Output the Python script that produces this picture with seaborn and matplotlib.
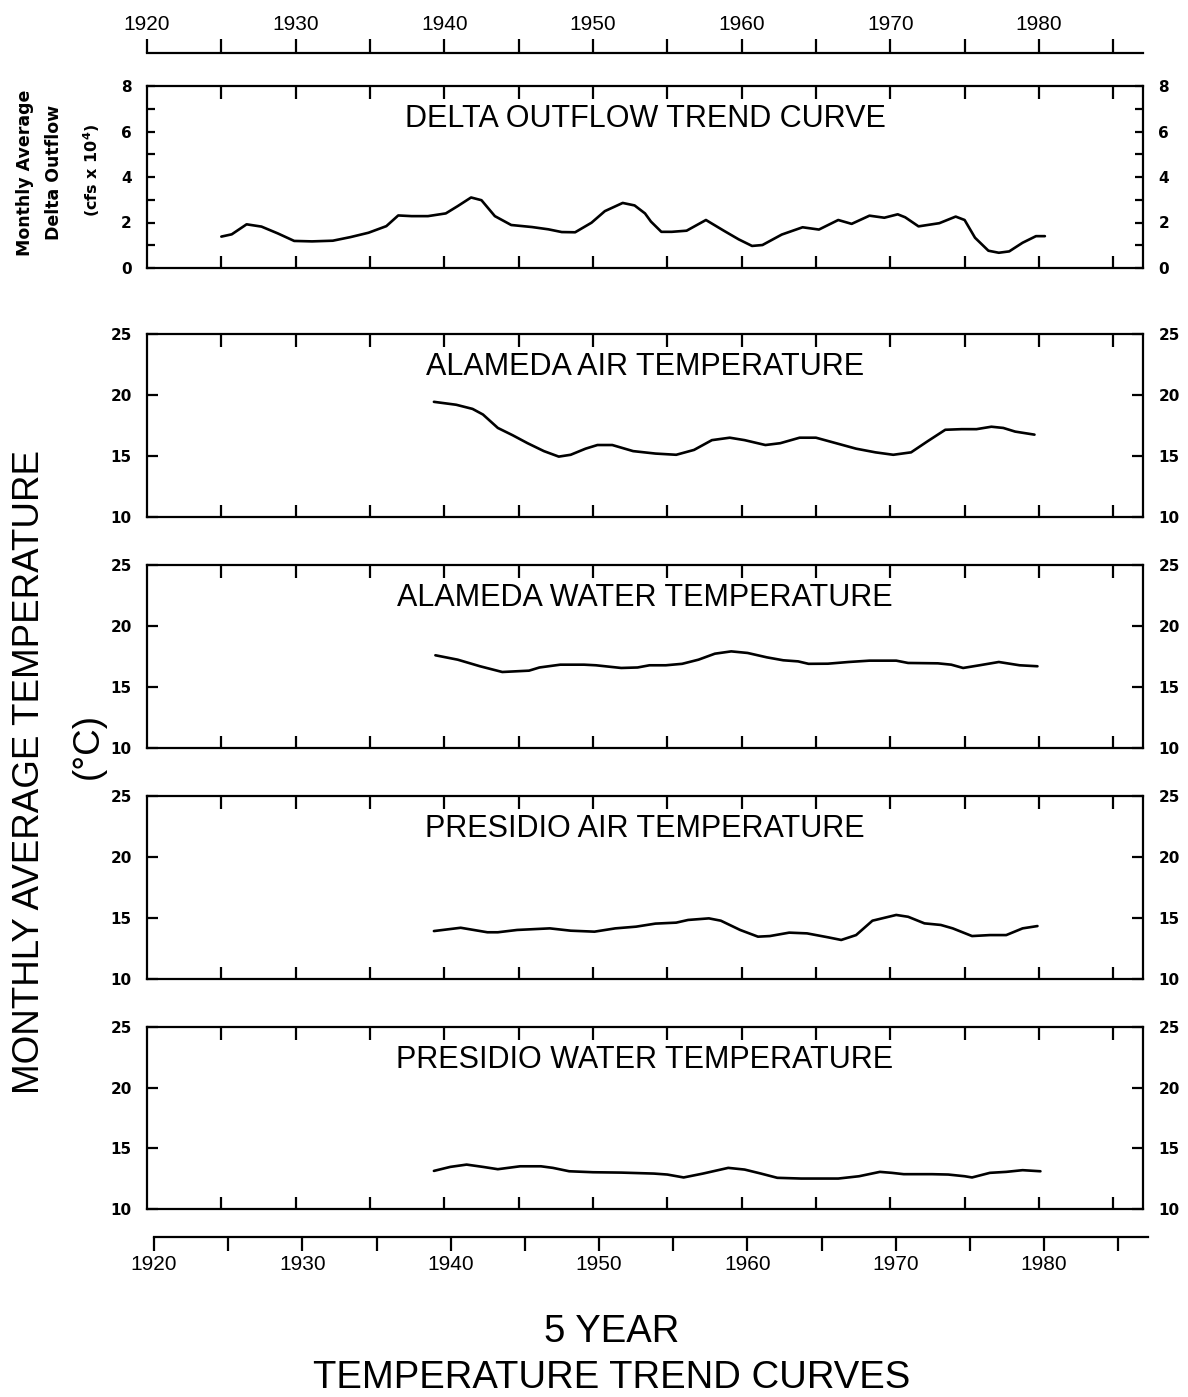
"""
Tendencias de 5 años: caudal del delta y temperaturas (Alameda / Presidio)
"""
import matplotlib
matplotlib.use('Agg')
import matplotlib.pyplot as plt
import seaborn as sns

# Datos
years_delta = [1925.0, 1925.7, 1926.7, 1927.7, 1928.8, 1929.9, 1931.1, 1932.5, 1933.7, 1934.9,
               1936.1, 1936.9, 1937.8, 1938.9, 1940.1, 1940.9, 1941.8, 1942.5, 1943.4, 1944.5,
               1945.9, 1947.0, 1947.9, 1948.8, 1949.9, 1950.8, 1952.0, 1952.8, 1953.5, 1953.9,
               1954.6, 1955.3, 1956.3, 1957.6, 1958.8, 1959.8, 1960.7, 1961.4, 1962.7, 1964.1,
               1965.2, 1966.5, 1967.4, 1968.6, 1969.6, 1970.5, 1971.0, 1971.9, 1973.3, 1974.4,
               1975.0, 1975.7, 1976.6, 1977.3, 1978.0, 1978.9, 1979.8, 1980.4]
delta_outflow = [1.38, 1.48, 1.92, 1.82, 1.52, 1.19, 1.17, 1.20, 1.36, 1.55,
                 1.84, 2.31, 2.28, 2.28, 2.40, 2.72, 3.10, 2.98, 2.28, 1.89,
                 1.80, 1.70, 1.58, 1.57, 1.99, 2.50, 2.86, 2.75, 2.40, 2.04,
                 1.59, 1.59, 1.64, 2.11, 1.64, 1.26, 0.97, 1.01, 1.47, 1.79,
                 1.69, 2.11, 1.94, 2.30, 2.21, 2.36, 2.23, 1.83, 1.97, 2.26,
                 2.11, 1.33, 0.76, 0.67, 0.73, 1.11, 1.40, 1.40]

years_alameda_air = [1939.3, 1940.8, 1941.9, 1942.6, 1943.6, 1944.6, 1945.6, 1946.7, 1947.7, 1948.5,
                     1949.5, 1950.3, 1951.3, 1952.7, 1954.2, 1955.6, 1956.8, 1958.0, 1959.2, 1960.2,
                     1961.6, 1962.6, 1963.9, 1965.0, 1966.2, 1967.7, 1969.0, 1970.2, 1971.4, 1972.5,
                     1973.7, 1974.8, 1975.8, 1976.8, 1977.6, 1978.4, 1979.7]
alameda_air = [19.44, 19.20, 18.86, 18.40, 17.30, 16.70, 16.05, 15.40, 14.95, 15.10,
               15.60, 15.90, 15.90, 15.40, 15.20, 15.10, 15.50, 16.30, 16.50, 16.30,
               15.90, 16.05, 16.50, 16.50, 16.10, 15.60, 15.30, 15.10, 15.30, 16.20,
               17.15, 17.20, 17.20, 17.40, 17.30, 17.00, 16.75]

years_alameda_water = [1939.4, 1940.9, 1942.4, 1943.9, 1945.7, 1946.4, 1947.8, 1949.4, 1950.2, 1951.9,
                       1953.0, 1953.8, 1954.9, 1956.0, 1957.1, 1958.2, 1959.3, 1960.4, 1961.7, 1962.8,
                       1963.8, 1964.5, 1965.8, 1967.2, 1968.6, 1970.4, 1971.2, 1973.2, 1974.1, 1974.9,
                       1976.0, 1977.3, 1978.7, 1979.9]
alameda_water = [17.60, 17.24, 16.70, 16.23, 16.34, 16.60, 16.83, 16.83, 16.78, 16.56,
                 16.60, 16.78, 16.78, 16.90, 17.24, 17.73, 17.92, 17.79, 17.43, 17.19,
                 17.10, 16.90, 16.91, 17.05, 17.16, 17.16, 16.97, 16.94, 16.83, 16.56,
                 16.78, 17.05, 16.78, 16.70]

years_presidio_air = [1939.3, 1941.1, 1942.9, 1943.6, 1944.9, 1947.1, 1948.5, 1950.1, 1951.5, 1952.9,
                      1954.2, 1955.6, 1956.4, 1957.8, 1958.6, 1959.9, 1961.1, 1961.9, 1963.2, 1964.4,
                      1965.8, 1966.7, 1967.7, 1968.8, 1970.4, 1971.2, 1972.3, 1973.4, 1974.2, 1975.5,
                      1976.7, 1977.8, 1978.9, 1979.9]
presidio_air = [13.93, 14.20, 13.83, 13.83, 14.02, 14.15, 13.96, 13.88, 14.15, 14.29,
                14.54, 14.62, 14.84, 14.97, 14.78, 14.02, 13.47, 13.52, 13.80, 13.74,
                13.42, 13.20, 13.60, 14.78, 15.25, 15.10, 14.56, 14.43, 14.15, 13.52,
                13.60, 13.60, 14.15, 14.34]

years_presidio_water = [1939.3, 1940.4, 1941.5, 1942.6, 1943.6, 1945.1, 1946.5, 1947.3, 1948.4, 1950.0,
                        1951.9, 1954.1, 1955.0, 1956.1, 1957.4, 1959.1, 1960.2, 1961.3, 1962.4, 1964.0,
                        1966.5, 1967.9, 1969.3, 1970.1, 1970.9, 1972.8, 1973.9, 1975.0, 1975.5, 1976.7,
                        1977.8, 1978.9, 1980.1]
presidio_water = [13.14, 13.47, 13.66, 13.47, 13.28, 13.52, 13.52, 13.39, 13.11, 13.03,
                  13.00, 12.92, 12.84, 12.60, 12.92, 13.39, 13.25, 12.92, 12.57, 12.51,
                  12.51, 12.70, 13.06, 12.98, 12.87, 12.87, 12.84, 12.70, 12.60, 12.98,
                  13.06, 13.20, 13.11]

ruler_years = list(range(1920, 1990, 5))
ruler_labels = [str(y) if y % 10 == 0 and y <= 1980 else '' for y in ruler_years]

sns.set_style('ticks')
plt.rcParams['font.family'] = ['DejaVu Sans']
for key in ['text.color', 'axes.edgecolor', 'axes.labelcolor', 'xtick.color', 'ytick.color']:
    plt.rcParams[key] = 'black'
THIN = 'Liberation Sans'

W, H = 1188, 1397
fig = plt.figure(figsize=(W / 100, H / 100), dpi=100)


def rect(left, top, right, bottom):
    # pasar de píxeles a fracciones de figura
    return [left / W, 1 - bottom / H, (right - left) / W, (bottom - top) / H]


X0, X1 = 147, 1143
XLIM = (1920, 1987)

panels = [
    ('DELTA OUTFLOW TREND CURVE', years_delta, delta_outflow, (0, 8), 86, 268),
    ('ALAMEDA AIR TEMPERATURE', years_alameda_air, alameda_air, (10, 25), 334, 517),
    ('ALAMEDA WATER TEMPERATURE', years_alameda_water, alameda_water, (10, 25), 565, 748),
    ('PRESIDIO AIR TEMPERATURE', years_presidio_air, presidio_air, (10, 25), 796, 979),
    ('PRESIDIO WATER TEMPERATURE', years_presidio_water, presidio_water, (10, 25), 1027, 1209),
]

for title, xs, ys, ylim, top, bottom in panels:
    ax = fig.add_axes(rect(X0, top, X1, bottom))
    sns.lineplot(x=xs, y=ys, ax=ax, color='black', linewidth=1.9, estimator=None)
    ax.set_xlim(*XLIM)
    ax.set_ylim(*ylim)
    ax.set_xticks(range(1925, 1986, 5))
    ax.tick_params(axis='x', direction='in', top=True, bottom=True,
                   labelbottom=False, length=9, width=1.6)
    if ylim == (0, 8):
        ticks = list(range(0, 9))
        labels = [str(t) if t % 2 == 0 else '' for t in ticks]
        ylen = 6
    else:
        ticks = [10, 15, 20, 25]
        labels = [str(t) for t in ticks]
        ylen = 8
    ax.set_yticks(ticks, labels, fontweight='bold', fontsize=11)
    ax.tick_params(axis='y', direction='in', left=True, right=True,
                   labelleft=True, labelright=True, length=ylen, width=1.6, pad=11)
    for s in ax.spines.values():
        s.set_linewidth(1.6)
        s.set_visible(True)
    ax.set_xlabel('')
    ax.set_ylabel('')
    ax.text(0.5, 0.82, title, transform=ax.transAxes, ha='center', va='center',
            fontsize=22, family=THIN)

# regla superior
top_ax = fig.add_axes(rect(X0, 53, X1, 60))
top_ax.set_xlim(*XLIM)
top_ax.set_ylim(0, 1)
for name, s in top_ax.spines.items():
    s.set_visible(name == 'top')
    s.set_linewidth(1.6)
top_ax.set_yticks([])
top_ax.set_xticks(ruler_years, ruler_labels, family=THIN, fontsize=15)
top_ax.tick_params(axis='x', direction='out', top=True, bottom=False,
                   labeltop=True, labelbottom=False, length=10, width=1.6, pad=4)
top_ax.patch.set_alpha(0)

# regla inferior
bot_ax = fig.add_axes(rect(154, 1230, 1148, 1237))
bot_ax.set_xlim(*XLIM)
bot_ax.set_ylim(0, 1)
for name, s in bot_ax.spines.items():
    s.set_visible(name == 'bottom')
    s.set_linewidth(1.6)
bot_ax.set_yticks([])
bot_ax.set_xticks(ruler_years, ruler_labels, family=THIN, fontsize=15)
bot_ax.tick_params(axis='x', direction='out', bottom=True, top=False,
                   labelbottom=True, length=10, width=1.6, pad=3)
bot_ax.patch.set_alpha(0)

# etiquetas del panel de caudal
fig.text(25 / W, 1 - 173 / H, 'Monthly Average', rotation=90, ha='center', va='center',
         fontsize=12.5, fontweight='bold')
fig.text(54 / W, 1 - 172 / H, 'Delta Outflow', rotation=90, ha='center', va='center',
         fontsize=12.5, fontweight='bold')
fig.text(92 / W, 1 - 170 / H, r'(cfs x 10$^{\mathbf{4}}$)', rotation=90, ha='center', va='center',
         fontsize=11.5, fontweight='bold')

# etiqueta grande del eje y
fig.text(30 / W, 1 - 772 / H, 'MONTHLY AVERAGE TEMPERATURE', rotation=90,
         ha='center', va='center', fontsize=26.5, family=THIN)
fig.text(88 / W, 1 - 746 / H, '(°C)', rotation=90,
         ha='center', va='center', fontsize=26.5, family=THIN)

# título inferior
fig.text(612 / W, 1 - 1332 / H, '5 YEAR', ha='center', va='center',
         fontsize=27.5, family=THIN)
fig.text(612 / W, 1 - 1378 / H, 'TEMPERATURE TREND CURVES', ha='center', va='center',
         fontsize=27.5, family=THIN)

fig.savefig('out.png', dpi=100, facecolor='white')
plt.close(fig)
